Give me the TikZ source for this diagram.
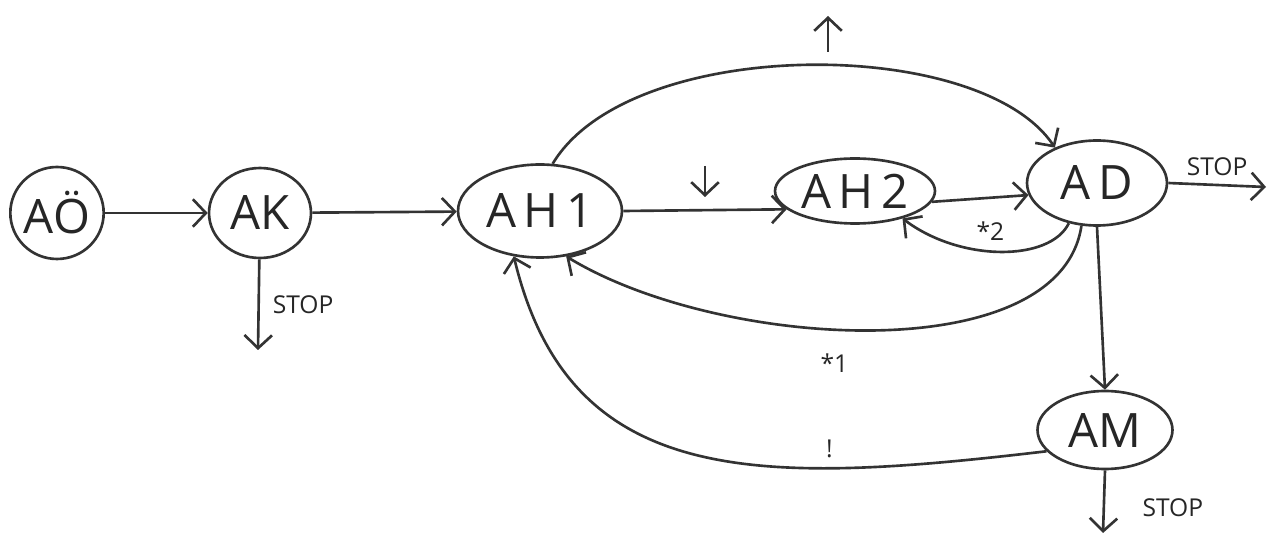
\documentclass[tikz,border=0pt]{standalone}
\usepackage{fontspec}
\setmainfont{Open Sans}
\usetikzlibrary{shapes.geometric,arrows.meta}

\tikzset{
  stnode/.style={draw=black!80, line width=1.5pt, ellipse, inner sep=0pt,
    font=\fontsize{27}{30}\selectfont, text=black!85},
  flow/.style={draw=black!80, line width=1.5pt,
    -{Straight Barb[length=2.6mm,width=5.5mm,line width=1.5pt]}},
  stoplbl/.style={font=\fontsize{14}{16}\selectfont, text=black!85}
}

\begin{document}
\begin{tikzpicture}[x=0.02cm, y=-0.02cm]
    \useasboundingbox[fill=white] (0,0) rectangle (1268,533);

    % States
    \node[stnode, minimum width=1.84cm, minimum height=1.84cm] (ao) at (57,213) {A\"O};
    \node[stnode, minimum width=2.04cm, minimum height=1.8cm] (ak) at (260,213) {AK};
    \node[stnode, minimum width=3.28cm, minimum height=1.86cm] (ahone) at (540,211) {A\,H\,1};
    \node[stnode, minimum width=3.2cm, minimum height=1.3cm] (ahtwo) at (855,191) {A\,H\,2};
    \node[stnode, minimum width=2.8cm, minimum height=1.7cm] (ad) at (1097,183) {A\,D};
    \node[stnode, minimum width=2.7cm, minimum height=1.56cm] (am) at (1105,430) {AM};

    % Free ends
    \coordinate (akstop) at (258,350);
    \coordinate (adstop) at (1266,187);
    \coordinate (amstop) at (1103,533);

    % Main line
    \draw[flow] (ao) -- (ak);
    \draw[flow] (ak) -- (ahone);
    \draw[flow] (ahone.east) -- (ahtwo.195);
    \draw[flow] (ahtwo.-8) -- (ad.190);
    \draw[flow] (ad.south) -- (am.north);

    % Stops
    \draw[flow] (ak) -- (akstop) node[midway, right=4pt, stoplbl] {STOP};
    \draw[flow] (ad.east) -- (adstop) node[midway, above=1pt, stoplbl] {STOP};
    \draw[flow] (am.south) -- (amstop) node[pos=0.6, right=18pt, stoplbl] {STOP};

    % Upper bypass AH1 -> AD
    \draw[flow] (ahone.75) .. controls (630,35) and (980,35) .. (ad.140);

    % Back loops
    \draw[flow] (ad.235) .. controls (1050,262) and (960,262) .. (ahtwo.-30)
        node[pos=0.55, above=2pt, stoplbl] {*2};
    \draw[flow] (ad.250) .. controls (1060,370) and (720,350) .. (ahone.-60)
        node[pos=0.56, below=10pt, stoplbl] {*1};
    \draw[flow] (am.200) .. controls (760,485) and (570,490) .. (ahone.-120)
        node[pos=0.28, above=2pt, stoplbl] {!};

    % Small marks
    \coordinate (upa) at (828,52);
    \coordinate (upb) at (828,16);
    \draw[flow] (upa) -- (upb);
    \coordinate (dna) at (705,166);
    \coordinate (dnb) at (705,197);
    \draw[flow] (dna) -- (dnb);
\end{tikzpicture}
\end{document}
